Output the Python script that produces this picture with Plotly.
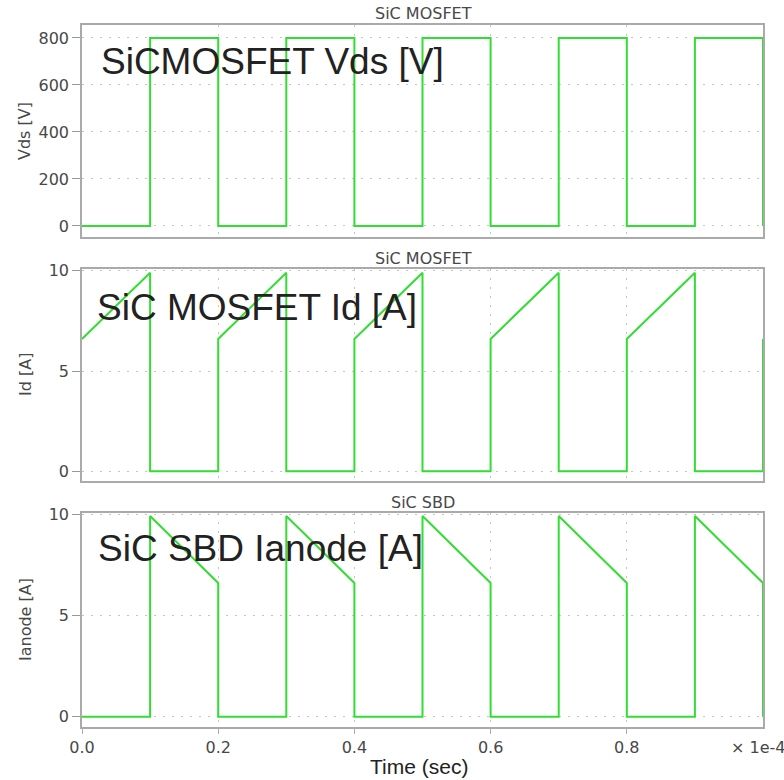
import plotly.graph_objects as go

# ---- data (time in microseconds) ----
time_us = [0, 10, 10, 20, 20, 30, 30, 40, 40, 50, 50, 60, 60, 70, 70, 80, 80, 90, 90, 100, 100]
vds_v = [0, 0, 800, 800, 0, 0, 800, 800, 0, 0, 800, 800, 0, 0, 800, 800, 0, 0, 800, 800, 0]
id_a = [6.6, 9.9, 0, 0, 6.6, 9.9, 0, 0, 6.6, 9.9, 0, 0, 6.6, 9.9, 0, 0, 6.6, 9.9, 0, 0, 6.6]
ianode_a = [0, 0, 9.9, 6.6, 0, 0, 9.9, 6.6, 0, 0, 9.9, 6.6, 0, 0, 9.9, 6.6, 0, 0, 9.9, 6.6, 0]

x_tickvals_us = [0, 20, 40, 60, 80]
x_ticktext = ["0.0", "0.2", "0.4", "0.6", "0.8"]
vds_ticks = [0, 200, 400, 600, 800]
i_ticks = [0, 5, 10]

panel_titles = ["SiC MOSFET", "SiC MOSFET", "SiC SBD"]
y_titles = ["Vds [V]", "Id [A]", "Ianode [A]"]
big_labels = ["SiCMOSFET Vds [V]", "SiC MOSFET Id [A]", "SiC SBD Ianode [A]"]

t_sec = [t * 1e-6 for t in time_us]
x_tickvals = [t * 1e-6 for t in x_tickvals_us]

GREEN = "#33dd33"
W, H = 784, 780
ML, MR, MT, MB = 82, 21, 25, 53
PW, PH = W - ML - MR, H - MT - MB

def py2paper(py):
    return (H - MB - py) / PH

def px2paper(px):
    return (px - ML) / PW

# panel pixel extents (top, bottom)
panels = [(25, 237), (269, 481), (513, 727)]
domains = [[py2paper(b), py2paper(t)] for t, b in panels]

fig = go.Figure()
series = [vds_v, id_a, ianode_a]
axis_names = ["", "2", "3"]
for k, ys in enumerate(series):
    fig.add_trace(go.Scatter(
        x=t_sec, y=ys, mode="lines",
        line=dict(color=GREEN, width=2),
        xaxis="x" + axis_names[k], yaxis="y" + axis_names[k],
        showlegend=False, hoverinfo="skip"))

small_font = dict(family="DejaVu Sans", size=16, color="#484848")
GRID = dict(showgrid=True, gridcolor="#c4c4c4", griddash="2px,7px", gridwidth=1)
y_ranges = [[-47, 855], [-0.48, 10.085], [-0.5, 10.05]]
y_tickvals = [vds_ticks, i_ticks, i_ticks]

layout = dict(
    width=W, height=H,
    margin=dict(l=ML, r=MR, t=MT, b=MB),
    plot_bgcolor="white", paper_bgcolor="white",
    showlegend=False,
)
for k in range(3):
    xa = dict(
        domain=[0, 1], range=[0, 1e-4],
        anchor="y" + axis_names[k],
        tickvals=x_tickvals, ticktext=x_ticktext,
        showticklabels=(k == 2),
        showline=True, linecolor="#aaaaaa", linewidth=1.5, mirror=True,
        ticks="outside" if k == 2 else "", ticklen=5, tickcolor="#aaaaaa",
        tickfont=small_font, zeroline=False, **GRID,
    )
    if k > 0:
        xa["matches"] = "x"
    ya = dict(
        domain=domains[k], range=y_ranges[k],
        anchor="x" + axis_names[k],
        tickvals=y_tickvals[k],
        showline=True, linecolor="#aaaaaa", linewidth=1.5, mirror=True,
        ticks="outside", ticklen=8, tickcolor="#999999",
        tickfont=small_font, zeroline=False, **GRID,
    )
    layout["xaxis" + axis_names[k]] = xa
    layout["yaxis" + axis_names[k]] = ya

annotations = []
big_centers = [62, 307, 548]
title_y = [14, 258, 502]
for k, (top, bot) in enumerate(panels):
    annotations.append(dict(
        text=panel_titles[k], x=px2paper(423), y=py2paper(title_y[k]),
        xref="paper", yref="paper", xanchor="center", yanchor="middle",
        showarrow=False, font=small_font))
    annotations.append(dict(
        text=y_titles[k], x=px2paper(25), y=py2paper((top + bot) / 2),
        xref="paper", yref="paper", xanchor="center", yanchor="middle",
        textangle=-90, showarrow=False, font=small_font))
    annotations.append(dict(
        text=big_labels[k], x=px2paper([99, 95, 96][k]), y=py2paper(big_centers[k]),
        xref="paper", yref="paper", xanchor="left", yanchor="middle",
        showarrow=False, font=dict(family="Liberation Sans", size=37, color="#222222")))

annotations.append(dict(
    text="Time (sec)", x=px2paper(419), y=py2paper(766),
    xref="paper", yref="paper", xanchor="center", yanchor="middle",
    showarrow=False, font=dict(family="Liberation Sans", size=21, color="#222222")))
annotations.append(dict(
    text="× 1e-4", x=px2paper(729), y=py2paper(747),
    xref="paper", yref="paper", xanchor="left", yanchor="middle",
    showarrow=False, font=small_font))
layout["annotations"] = annotations

fig.update_layout(**layout)
fig.write_html("out.html")
